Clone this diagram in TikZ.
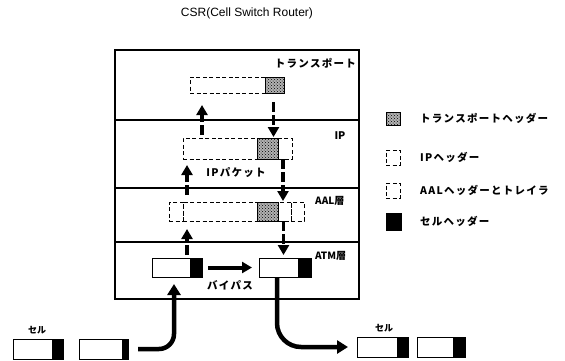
\documentclass[tikz,border=0pt]{standalone}
\usepackage{fontspec}
\setmainfont{Liberation Sans}
\newfontfamily\jp[LetterSpace=12]{Noto Sans CJK JP}
\newfontfamily\jpn{Noto Sans CJK JP}
\usetikzlibrary{arrows.meta,patterns}
\begin{document}
\begin{tikzpicture}[x=1pt,y=-1pt,
  layer/.style={draw,line width=1.1pt,inner sep=0pt,outer sep=0pt},
  pk/.style={draw,dash pattern=on 4pt off 2.5pt,line width=0.9pt,inner sep=0pt,outer sep=0pt},
  hat/.style={draw,line width=0.9pt,fill=gray!60,postaction={pattern=crosshatch dots},inner sep=0pt,outer sep=0pt},
  body/.style={draw,line width=1pt,fill=white,inner sep=0pt,outer sep=0pt},
  hdr/.style={draw,line width=1pt,fill=black,inner sep=0pt,outer sep=0pt},
  lbl/.style={inner sep=0pt,font=\jp\bfseries\fontsize{10.5}{12}\selectfont},
  darr/.style={line width=3.8pt,dash pattern=on 10pt off 3pt,-{Triangle[width=11pt,length=10pt]}},
  barr/.style={line width=4pt,-{Triangle[width=11pt,length=10pt]}},
  carr/.style={line width=4.5pt,-{Triangle[width=13pt,length=11pt]}}]
\useasboundingbox (0,0) rectangle (565,360);
% title
\node[inner sep=0pt,font=\fontsize{12}{14}\selectfont] (title) at (247,13) {CSR(Cell Switch Router)};
% layers
\node[layer,minimum width=244pt,minimum height=70pt] (tr) at (237,85) {};
\node[layer,minimum width=244pt,minimum height=68pt] (ipl) at (237,154) {};
\node[layer,minimum width=244pt,minimum height=54pt] (aal) at (237,215) {};
\node[layer,minimum width=244pt,minimum height=57pt] (atm) at (237,270.5) {};
\node[lbl,anchor=east] (ltr) at (356,63) {トランスポート};
\node[lbl,font=\jpn\bfseries\fontsize{10.5}{12}\selectfont] (lip) at (340,136) {IP};
\node[lbl,anchor=west,font=\jpn\bfseries\fontsize{10}{12}\selectfont] (laal) at (315,201) {AAL層};
\node[lbl,anchor=west,font=\jpn\bfseries\fontsize{10}{12}\selectfont] (latm) at (315,256) {ATM層};
% transport packet
\node[pk,minimum width=75pt,minimum height=16pt] (td) at (227.5,85) {};
\node[hat,minimum width=19pt,minimum height=16pt] (th) at (274.5,85) {};
% IP packet
\node[pk,minimum width=74pt,minimum height=21pt] (id) at (220,148.5) {};
\node[hat,minimum width=21pt,minimum height=21pt] (ith) at (267.5,148.5) {};
\node[pk,minimum width=14pt,minimum height=21pt] (iph) at (285,148.5) {};
\node[lbl] (lpk) at (236,173) {IPパケット};
% AAL
\node[pk,minimum width=14pt,minimum height=19pt] (ah) at (176,211.5) {};
\node[pk,minimum width=74pt,minimum height=19pt] (ad) at (220,211.5) {};
\node[hat,minimum width=21pt,minimum height=19pt] (ath) at (267.5,211.5) {};
\node[pk,minimum width=13pt,minimum height=19pt] (aiph) at (284.5,211.5) {};
\node[pk,minimum width=13pt,minimum height=19pt] (atr) at (297.5,211.5) {};
% ATM cells
\node[body,minimum width=38pt,minimum height=19pt] (c1) at (171,267.5) {};
\node[hdr,minimum width=12pt,minimum height=19pt] (c1h) at (196,267.5) {};
\node[body,minimum width=39pt,minimum height=19pt] (c2) at (278.5,267.5) {};
\node[hdr,minimum width=13pt,minimum height=19pt] (c2h) at (304.5,267.5) {};
\node[lbl] (lby) at (230,285) {バイパス};
% bottom cells
\node[body,minimum width=39pt,minimum height=20pt] (b1) at (32.5,349) {};
\node[hdr,minimum width=11pt,minimum height=20pt] (b1h) at (57.5,349) {};
\node[body,minimum width=43pt,minimum height=20pt] (b2) at (100.5,349) {};
\node[hdr,minimum width=6pt,minimum height=20pt] (b2h) at (125,349) {};
\node[inner sep=0pt,font=\jpn\bfseries\fontsize{9}{10}\selectfont] (lc1) at (37,330) {セル};
\node[body,minimum width=40pt,minimum height=20pt] (r1) at (377,347) {};
\node[hdr,minimum width=11pt,minimum height=20pt] (r1h) at (402.5,347) {};
\node[body,minimum width=36pt,minimum height=20pt] (r2) at (435,347) {};
\node[hdr,minimum width=12pt,minimum height=20pt] (r2h) at (459,347) {};
\node[inner sep=0pt,font=\jpn\bfseries\fontsize{9}{10}\selectfont] (lc2) at (384,328) {セル};
% legend
\node[hat,minimum width=14pt,minimum height=13pt] (g1) at (393,118.5) {};
\node[pk,minimum width=14pt,minimum height=15pt] (g2) at (393,157.5) {};
\node[pk,minimum width=14pt,minimum height=15pt] (g3) at (393,190.5) {};
\node[hdr,minimum width=15pt,minimum height=17pt] (g4) at (393.5,221.5) {};
\node[lbl,anchor=west] (t1) at (420,118.5) {トランスポートヘッダー};
\node[lbl,anchor=west] (t2) at (420,157.5) {IPヘッダー};
\node[lbl,anchor=west] (t3) at (420,190.5) {AALヘッダーとトレイラ};
\node[lbl,anchor=west] (t4) at (420,221.5) {セルヘッダー};
% dashed arrows down
\draw[darr,shorten <=9pt,shorten >=1pt] ([xshift=-1pt]th.south) -- ([xshift=-1pt]th.south |- ith.north);
\draw[darr,shorten >=1pt] ([xshift=-2pt]iph.south) -- ([xshift=-2pt]iph.south |- aiph.north);
\draw[darr,shorten >=3pt] ([xshift=-1pt]aiph.south) -- ([xshift=-1pt]aiph.south |- c2.north);
% dashed arrows up
\draw[darr,shorten <=3pt,shorten >=8pt] ([xshift=4pt]ad.west |- c1.north) -- ([xshift=4pt]ad.south west);
\draw[darr,shorten <=7pt,shorten >=6pt] ([xshift=4pt]ad.north west) -- ([xshift=4pt]id.south west);
\draw[darr,shorten <=3pt,shorten >=12pt] ([xshift=12pt]td.west |- id.north) -- ([xshift=12pt]td.south west);
% bypass
\draw[barr,shorten <=6pt,shorten >=7pt] (c1h.east) -- (c2.west);
% in and out
\draw[carr,rounded corners=15pt,shorten <=10pt,shorten >=7pt] (b2h.east) -- ([xshift=3pt]c1.south |- b2h.east) -- ([xshift=3pt]c1.south);
\draw[carr,rounded corners=24pt,shorten >=9pt] ([xshift=-1.5pt]c2.south) -- ([xshift=-1.5pt]c2.south |- r1.west) -- (r1.west);
\end{tikzpicture}
\end{document}
